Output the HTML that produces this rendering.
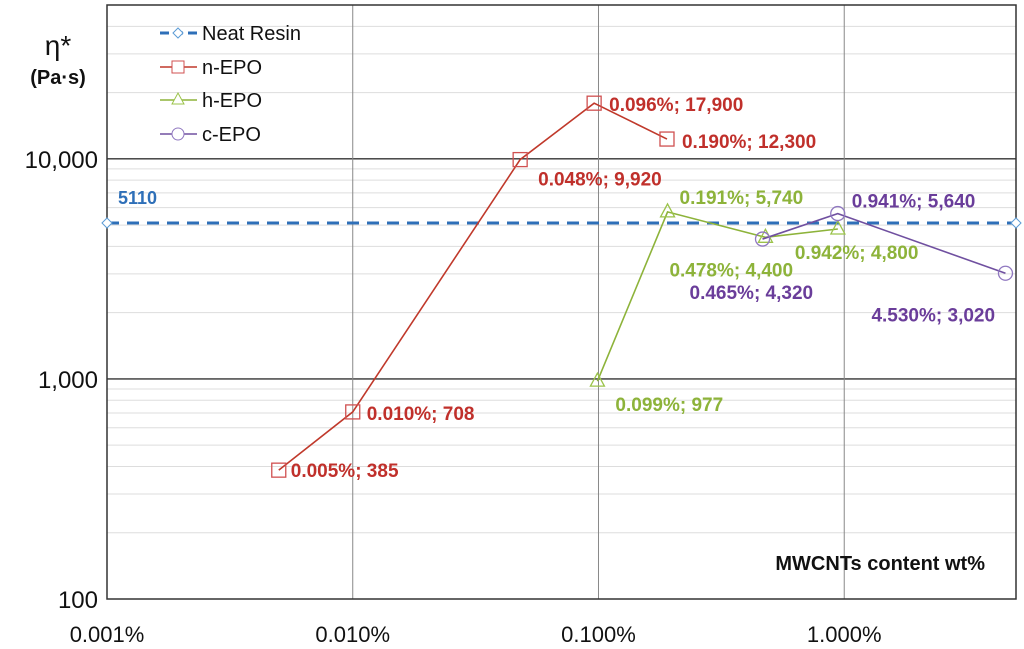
<!DOCTYPE html>
<html><head><meta charset="utf-8"><style>
body{margin:0;background:#fff;}
svg{display:block;font-family:"Liberation Sans",Arial,sans-serif;}
</style></head><body>
<svg id="chart" width="1024" height="649">
<g id="grid"></g><g id="series"></g><g id="labels"></g>
<text x="58" y="55" font-size="28" text-anchor="middle" fill="#111">η*</text>
<text x="58" y="84" font-size="20" font-weight="bold" text-anchor="middle" fill="#111">(Pa·s)</text>
<text x="985" y="570" font-size="20" font-weight="bold" text-anchor="end" fill="#111">MWCNTs content wt%</text>
<g>
<line x1="160" y1="33" x2="197" y2="33" stroke="#2e6fb8" stroke-width="3" stroke-dasharray="9,5"/><path d="M173 33 l5 -5 l5 5 l-5 5z" fill="#fff" stroke="#5b9bd5"/>
<text x="202" y="40" font-size="20" fill="#111">Neat Resin</text>
<line x1="160" y1="67" x2="197" y2="67" stroke="#c0392b" stroke-width="1.5"/><rect x="172" y="61" width="12" height="12" fill="#fff" stroke="#d05050"/>
<text x="202" y="74" font-size="20" fill="#111">n-EPO</text>
<line x1="160" y1="100" x2="197" y2="100" stroke="#8db33a" stroke-width="1.5"/><path d="M178 93 l6 11 h-12z" fill="#fff" stroke="#9bc34a"/>
<text x="202" y="107" font-size="20" fill="#111">h-EPO</text>
<line x1="160" y1="134" x2="197" y2="134" stroke="#7050a0" stroke-width="1.5"/><circle cx="178" cy="134" r="6" fill="#fff" stroke="#9078c0"/>
<text x="202" y="141" font-size="20" fill="#111">c-EPO</text>
</g>
</svg>
<script>
const xTicks=[0.001,0.01,0.1,1];
const xTickLabels=["0.001%","0.010%","0.100%","1.000%"];
const yTicks=[100,1000,10000];
const yTickLabels=["100","1,000","10,000"];
const neatValue=5110;
const nX=[0.005,0.010,0.048,0.096,0.190];
const nY=[385,708,9920,17900,12300];
const hX=[0.099,0.191,0.478,0.942];
const hY=[977,5740,4400,4800];
const cX=[0.465,0.941,4.530];
const cY=[4320,5640,3020];
const nLabels=["0.005%; 385","0.010%; 708","0.048%; 9,920","0.096%; 17,900","0.190%; 12,300"];
const hLabels=["0.099%; 977","0.191%; 5,740","0.478%; 4,400","0.942%; 4,800"];
const cLabels=["0.465%; 4,320","0.941%; 5,640","4.530%; 3,020"];
const L=107,R=1016,T=5,B=599,xmin=0.001,xmax=5,ymin=100,ymax=50000;
const sx=v=>L+(Math.log10(v)-Math.log10(xmin))/(Math.log10(xmax)-Math.log10(xmin))*(R-L);
const sy=v=>B-(Math.log10(v)-Math.log10(ymin))/(Math.log10(ymax)-Math.log10(ymin))*(B-T);
const NS="http://www.w3.org/2000/svg";
function mk(p,t,a){const e=document.createElementNS(NS,t);for(const k in a)e.setAttribute(k,a[k]);p.appendChild(e);return e;}
const g=document.getElementById('grid'),s=document.getElementById('series'),lb=document.getElementById('labels');
for(let d=100;d<ymax;d*=10)for(let m=2;m<=9;m++){const v=d*m;if(v>=ymax)break;const l=mk(g,'line',{x1:L,x2:R,y1:sy(v),y2:sy(v),stroke:'#ddd','stroke-width':1});

}
yTicks.forEach((v,i)=>{if(i>0){const l=mk(g,'line',{x1:L,x2:R,y1:sy(v),y2:sy(v),stroke:'#333','stroke-width':1.3});

}
const t=mk(lb,'text',{x:98,y:sy(v)+9,'font-size':24,'text-anchor':'end',fill:'#111'});t.textContent=yTickLabels[i];

});
xTicks.forEach((v,i)=>{if(i>0){const l=mk(g,'line',{x1:sx(v),x2:sx(v),y1:T,y2:B,stroke:'#888','stroke-width':1});

}
const t=mk(lb,'text',{x:sx(v),y:642,'font-size':22,'text-anchor':'middle',fill:'#111'});t.textContent=xTickLabels[i];

});
const fr=mk(g,'rect',{x:L,y:T,width:R-L,height:B-T,fill:'none',stroke:'#333','stroke-width':1.5});


const nl=mk(s,'line',{x1:L,x2:R,y1:sy(neatValue),y2:sy(neatValue),stroke:'#2e6fb8','stroke-width':3,'stroke-dasharray':'12,8'});


[L,R].forEach(x=>{const d=mk(s,'path',{d:`M${x-5} ${sy(neatValue)} l5 -5 l5 5 l-5 5z`,fill:'#fff',stroke:'#5b9bd5'});

});
const nt=mk(lb,'text',{x:118,y:sy(neatValue)-19,'font-size':18,'font-weight':'bold',fill:'#2e6fb8'});nt.textContent=String(neatValue);


function series(X,Y,line,mcol,shape,name){
const pl=mk(s,'polyline',{points:X.map((x,i)=>sx(x)+','+sy(Y[i])).join(' '),fill:'none',stroke:line,'stroke-width':1.6});


X.forEach((x,i)=>{const cx=sx(x),cy=sy(Y[i]);let m;
if(shape=='sq')m=mk(s,'rect',{x:cx-7,y:cy-7,width:14,height:14,fill:'none',stroke:mcol,'stroke-width':1.3});
else if(shape=='tri')m=mk(s,'path',{d:`M${cx} ${cy-8} l7 13 h-14z`,fill:'none',stroke:mcol,'stroke-width':1.3});
else m=mk(s,'circle',{cx:cx,cy:cy,r:7,fill:'none',stroke:mcol,'stroke-width':1.3});

});}
series(nX,nY,'#c0392b','#d05050','sq','n-epo');
series(hX,hY,'#8db33a','#9bc34a','tri','h-epo');
series(cX,cY,'#7050a0','#9078c0','circ','c-epo');
function labels(X,Y,T,off,col,name){X.forEach((x,i)=>{const t=mk(lb,'text',{x:sx(x)+off[i][0],y:sy(Y[i])+off[i][1],'font-size':19,'font-weight':'bold',fill:col});t.textContent=T[i];

});}
labels(nX,nY,nLabels,[[12,7],[14,8],[18,26],[15,8],[15,9]],'#c0302b','n-epo');
labels(hX,hY,hLabels,[[18,30],[12,-8],[-96,39],[-43,30]],'#8db33a','h-epo');
labels(cX,cY,cLabels,[[-73,60],[14,-6],[-134,48]],'#6a3d9a','c-epo');
</script>
</body></html>
